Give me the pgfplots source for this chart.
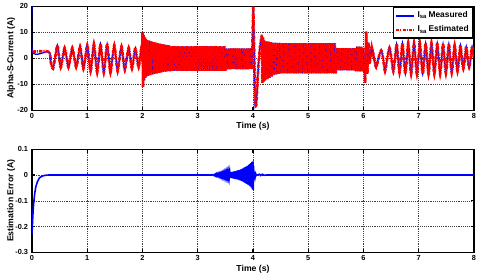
\documentclass[border=0pt]{standalone}
\usepackage{pgfplots}
\pgfplotsset{compat=1.18}
\usepackage{pgfplotstable}
\usepackage{fontspec}
\setmainfont{Liberation Sans}

\pgfplotstableread{
t y
0 20
0.01 2.5
0.30 2.5
0.34 -1.5
0.38 -4
0.42 0.5
0.46 5
0.49 0.5
0.52 -3.5
0.555 0.3
0.59 4
0.625 0.3
0.66 -3.5
0.695 0.3
0.73 4
0.765 0.3
0.80 -3.5
0.835 0.3
0.87 4.5
0.90 0.3
0.93 -4
0.965 0.3
1.00 5
1.03 0
1.06 -5
1.09 0
1.12 5.5
1.15 0
1.18 -5.5
1.21 0
1.24 5.5
1.27 0
1.30 -5.5
1.33 0
1.36 5.5
1.39 0
1.42 -5.5
1.455 0
1.49 5
1.52 0
1.55 -5
1.585 0
1.62 4.5
1.65 0
1.68 -4.5
1.715 0
1.75 4
1.78 0
1.81 -4
1.84 0
1.87 4
1.90 0
1.93 -3.5
1.955 0
1.98 4
1.995 0
2.00 10
2.01 -11
2.02 9
2.03 -8.5
2.04 8
2.05 -7.5
2.06 7.5
2.07 -7
2.08 7
2.10 -6.8
2.12 6.8
2.14 -6.5
2.16 6.5
2.18 -6.2
2.20 6.2
2.22 -6
2.24 6
2.26 -5.8
2.28 5.8
2.30 -5.6
2.32 5.6
2.34 -5.4
2.36 5.4
2.38 -5.2
2.40 5.2
2.42 -5.1
2.44 5.1
2.46 -5
2.48 5
2.50 -5
2.52 4.6
2.54 -4.8
2.56 4.6
2.58 -4.8
2.60 4.6
2.62 -4.8
2.64 4.6
2.66 -4.8
2.68 4.6
2.70 -4.8
2.72 4.6
2.74 -4.8
2.76 4.6
2.78 -4.8
2.80 4.6
2.82 -4.8
2.84 4.6
2.86 -4.8
2.88 4.6
2.90 -4.8
2.92 4.6
2.94 -4.8
2.96 4.6
2.98 -4.8
3.00 4.6
3.02 -4.8
3.04 4.6
3.06 -4.8
3.08 4.6
3.10 -4.8
3.12 4.6
3.14 -4.8
3.16 4.6
3.18 -4.8
3.20 4.6
3.22 -4.8
3.24 4.6
3.26 -4.8
3.28 4.6
3.30 -4.8
3.32 4.6
3.34 -4.8
3.36 4.6
3.38 -4.8
3.40 4.6
3.42 -4.8
3.44 4.6
3.46 -4.8
3.48 4.6
3.50 -4.8
3.52 3.8
3.54 -4.2
3.56 3.8
3.58 -4.2
3.60 3.8
3.62 -4.2
3.64 3.8
3.66 -4.2
3.68 3.8
3.70 -4.2
3.72 3.8
3.74 -4.2
3.76 3.8
3.78 -4.2
3.80 3.8
3.82 -4.2
3.84 3.8
3.86 -4.2
3.88 3.8
3.90 -4.2
3.92 3.8
3.94 -4.2
3.96 3.8
3.98 -4.2
4.005 20
4.02 5
4.04 -18.7
4.06 -18
4.08 -10
4.10 -2
4.13 5
4.16 9
4.17 -9.5
4.18 8
4.19 -9
4.20 7
4.22 -8.5
4.24 6.5
4.26 -8
4.28 6.4
4.30 -7.5
4.32 6.2
4.34 -7
4.36 6
4.38 -6.5
4.40 6
4.42 -6.2
4.44 5.9
4.46 -6
4.48 5.9
4.50 -5.8
4.52 5.8
4.54 -5.8
4.56 5.8
4.58 -5.8
4.60 5.8
4.62 -5.8
4.64 5.8
4.66 -5.8
4.68 5.8
4.70 -5.8
4.72 5.8
4.74 -5.8
4.76 5.8
4.78 -5.8
4.80 5.8
4.82 -5.8
4.84 5.8
4.86 -5.8
4.88 5.8
4.90 -5.8
4.92 5.8
4.94 -5.8
4.96 5.8
4.98 -5.8
5.00 5.8
5.02 -5.8
5.04 5.8
5.06 -5.8
5.08 5.8
5.10 -5.8
5.12 5.8
5.14 -5.8
5.16 5.8
5.18 -5.8
5.20 5.8
5.22 -5.8
5.24 5.8
5.26 -5.8
5.28 5.8
5.30 -5.8
5.32 5.8
5.34 -5.8
5.36 5.8
5.38 -5.8
5.40 5.8
5.42 -5.8
5.44 5.8
5.46 -5.8
5.48 5.8
5.50 -5.8
5.52 3.9
5.54 -4.6
5.56 3.9
5.58 -4.6
5.60 3.9
5.62 -4.6
5.64 3.9
5.66 -4.6
5.68 3.9
5.70 -4.6
5.72 3.9
5.74 -4.6
5.76 3.9
5.78 -4.6
5.80 3.9
5.82 -4.6
5.84 3.9
5.86 -5
5.88 4.5
5.90 -5
5.92 4.5
5.94 -5
5.96 4.5
5.98 -5
6.00 4
6.02 -3
6.03 -9.5
6.05 10.2
6.07 -6
6.09 6
6.11 -2
6.15 4
6.19 0
6.23 -3.5
6.27 0
6.32 3
6.355 0
6.39 -5
6.43 0
6.47 4
6.505 0
6.54 -5
6.57 0
6.60 5.5
6.625 0
6.652 -5.5
6.68 0
6.705 5.8
6.73 0
6.757 -6
6.785 0
6.81 5.8
6.835 0
6.862 -6
6.89 0
6.915 5.8
6.94 0
6.967 -6
6.995 0
7.02 5.8
7.045 0
7.072 -6
7.10 0
7.125 5.8
7.15 0
7.177 -6
7.205 0
7.23 5.8
7.255 0
7.282 -6
7.31 0
7.335 5.8
7.36 0
7.387 -6
7.415 0
7.44 5.5
7.465 0
7.492 -5.8
7.52 0
7.545 5.5
7.57 0
7.597 -5.5
7.625 0
7.65 5
7.675 0
7.702 -5
7.73 0
7.755 5
7.78 0
7.807 -4
7.835 0
7.86 4.5
7.885 0
7.912 -3.5
7.94 0
7.965 4.5
8.00 0
}\currenttable

\pgfplotstableread{
t e
0 -0.23
0.01 -0.18
0.02 -0.14
0.03 -0.11
0.05 -0.07
0.07 -0.045
0.10 -0.025
0.13 -0.013
0.16 -0.007
0.20 -0.003
0.25 -0.001
0.30 0
3.20 0
3.22 0.001
3.24 -0.001
3.26 0.0015
3.28 -0.0015
3.30 0.002
3.31 -0.002
3.32 0.002
3.33 -0.003
3.34 0.003
3.35 -0.003
3.36 0.003
3.37 -0.003
3.38 0.004
3.39 -0.004
3.40 0.004
3.41 -0.004
3.42 0.005
3.43 -0.005
3.44 0.005
3.45 -0.006
3.46 0.006
3.47 -0.006
3.48 0.007
3.49 -0.007
3.50 0.007
3.51 -0.008
3.52 0.008
3.53 -0.008
3.54 0.009
3.55 -0.009
3.56 0.010
3.57 -0.010
3.58 0.010
3.59 -0.011
3.60 0.011
3.61 -0.012
3.62 0.012
3.63 -0.013
3.64 0.013
3.65 -0.014
3.66 0.014
3.67 -0.015
3.68 0.015
3.69 -0.016
3.70 0.016
3.71 -0.017
3.72 0.018
3.73 -0.018
3.74 0.019
3.75 -0.020
3.76 0.020
3.77 -0.021
3.78 0.022
3.79 -0.023
3.80 0.023
3.81 -0.025
3.82 0.026
3.83 -0.027
3.84 0.028
3.85 -0.029
3.86 0.030
3.87 -0.032
3.88 0.033
3.89 -0.034
3.90 0.035
3.91 -0.037
3.92 0.039
3.93 -0.040
3.94 0.042
3.95 -0.044
3.96 0.046
3.97 -0.049
3.98 0.051
3.99 -0.055
4.00 0.053
4.005 -0.058
4.01 0.035
4.02 -0.02
4.03 0.012
4.04 -0.007
4.05 0.004
4.06 -0.002
4.08 0
4.12 0.003
4.14 -0.002
4.17 0.003
4.20 -0.001
4.24 0
8 0
}\errtable

\pgfplotsset{
  matlab/.style={
    scale only axis,
    width=331.5pt,
    xmin=0, xmax=8,
    xtick={0,1,...,8},
    grid=major,
    grid style={densely dotted, black!75, line width=0.4pt},
    axis line style={line width=1pt},
    tick align=inside,
    major tick length=2.5pt,
    tick style={black, line width=0.8pt},
    ticklabel style={font=\fontsize{5.5}{6}\selectfont\bfseries},
    every axis x label/.style={at={(axis description cs:0.5,0)}, anchor=center, yshift=-12.3pt,
      font=\fontsize{6.5}{7}\selectfont\bfseries},
    every axis y label/.style={at={(axis description cs:-0.047,0.5)}, rotate=90, anchor=center,
      font=\fontsize{6.5}{7}\selectfont\bfseries},
    xticklabel style={yshift=1pt},
    yticklabel style={xshift=0.5pt},
  }
}

\begin{document}
\begin{tikzpicture}
\useasboundingbox (-24pt,-124.3pt) rectangle (336pt,82.7pt);
\begin{axis}[matlab,
  at={(0pt,0pt)}, anchor=south west,
  height=78pt,
  ymin=-20, ymax=20,
  ytick={-20,-10,0,10,20},
  yticklabels={-20,-10,0,10,20},
  xticklabels={0,1,2,3,4,5,6,7,8},
  xlabel={Time (s)},
  ylabel={Alpha-S-Current (A)},
  legend style={at={(rel axis cs:0.999,0.996)}, anchor=north east,
    draw=black, line width=0.9pt, fill=white,
    font=\fontsize{6.3}{7.5}\selectfont\bfseries,
    inner sep=1.2pt, row sep=0.5pt, cells={anchor=west}},
  legend image code/.code={\draw[#1, line width=1.4pt] (0pt,0pt) -- (13.5pt,0pt);},
]
\addplot[blue, line width=1pt, smooth, restrict x to domain=0:2.0] table[x=t, y=y] {\currenttable};
\addlegendentry{I\textsubscript{sa}\,Measured}
\addplot[red, line width=2pt, dash pattern=on 2.5pt off 0.8pt on 0.8pt off 0.8pt, smooth, restrict x to domain=0.005:2.0] table[x=t, y=y] {\currenttable};
\addlegendentry{I\textsubscript{sa}\,Estimated}
\addplot[blue, line width=1pt, restrict x to domain=1.99:6.2, forget plot] table[x=t, y=y] {\currenttable};
\addplot[red, line width=2pt, dash pattern=on 2.5pt off 0.8pt on 0.8pt off 0.8pt, restrict x to domain=1.99:6.2, forget plot] table[x=t, y=y] {\currenttable};
\addplot[blue, line width=1pt, smooth, restrict x to domain=6.1:8, forget plot] table[x=t, y=y] {\currenttable};
\addplot[red, line width=2pt, dash pattern=on 2.5pt off 0.8pt on 0.8pt off 0.8pt, smooth, restrict x to domain=6.1:8, forget plot] table[x=t, y=y] {\currenttable};
\end{axis}
\begin{axis}[matlab,
  at={(0pt,-29.2pt)}, anchor=north west,
  height=77.4pt,
  ymin=-0.3, ymax=0.1,
  ytick={-0.3,-0.2,-0.1,0,0.1},
  yticklabels={-0.3,-0.2,-0.1,0,0.1},
  xticklabels={0,1,2,3,4,5,6,7,8},
  xlabel={Time (s)},
  ylabel={Estimation Error (A)},
]
\addplot[blue, line width=1.2pt] table[x=t, y=e] {\errtable};
\end{axis}
\end{tikzpicture}
\end{document}
